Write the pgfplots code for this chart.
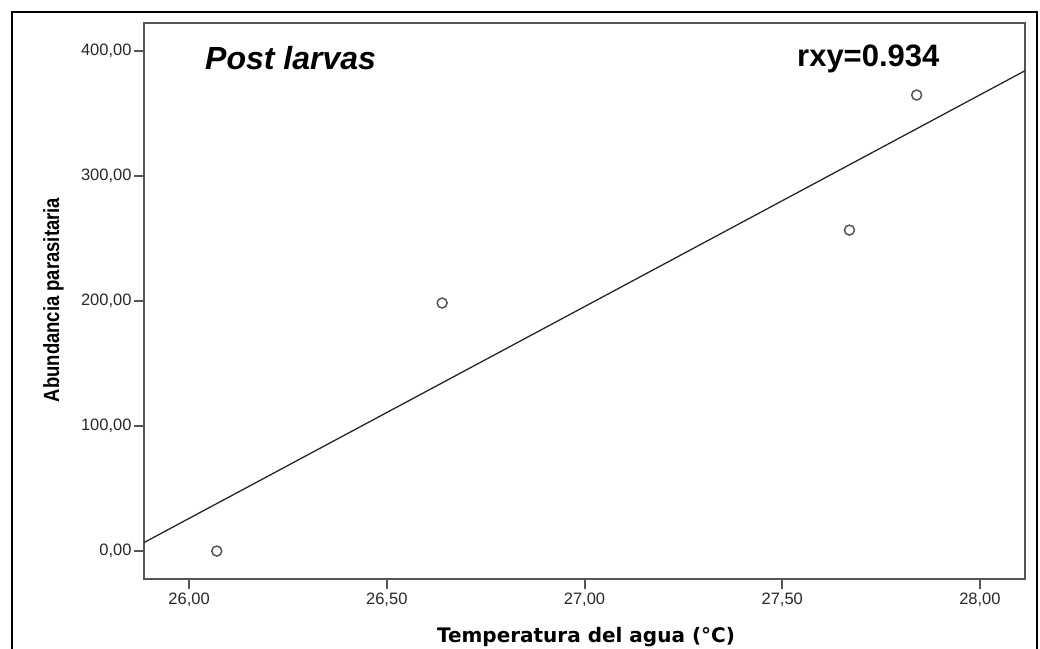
\documentclass[border=0pt]{standalone}
\usepackage{fontspec}
\setmainfont{Liberation Sans}
\newfontfamily\dejavu{DejaVu Sans}
\newfontfamily\narrow[FakeStretch=0.84]{Liberation Sans}
\usepackage{pgfplots}
\pgfplotsset{compat=1.18}
\definecolor{axgray}{RGB}{85,85,85}
\definecolor{txtgray}{RGB}{40,40,40}
\begin{document}
\begin{tikzpicture}[x=1pt,y=1pt]
\useasboundingbox (0,0) rectangle (1040,648);
\draw[line width=1.8pt,black] (12,-5) -- (12,636) -- (1037,636) -- (1037,-5);
\begin{axis}[
    at={(144pt,69.3pt)}, anchor=south west,
    scale only axis, width=881pt, height=556pt,
    xmin=25.886, xmax=28.114, ymin=-22.1, ymax=422.4,
    xtick={26,26.5,27,27.5,28}, ytick={0,100,200,300,400},
    xtick pos=bottom, ytick pos=left, tick align=outside,
    major tick length=10pt,
    axis line style={axgray, line width=2pt},
    tick style={axgray, line width=2pt},
    every tick label/.append style={font=\fontsize{16.5}{18}\selectfont, text=txtgray},
    xticklabel style={yshift=-1pt},
    yticklabel style={xshift=1pt},
    /pgf/number format/.cd, fixed, fixed zerofill, precision=2, use comma, 1000 sep={}, assume math mode=true,
]
\addplot[draw=black!85, line width=1.3pt] coordinates {(25.886,6.8) (28.114,384.0)};
\addplot[only marks, mark=o, mark size=5pt, mark options={draw=axgray, line width=1.5pt}]
  coordinates {(26.07,0) (26.64,198.3) (27.67,256.6) (27.84,364.6)};
\end{axis}
\node[anchor=base west, inner sep=0] at (205,578) {\fontsize{32}{36}\selectfont\bfseries\itshape Post larvas};
\node[anchor=base west, inner sep=0] at (797,581) {\fontsize{31}{34}\selectfont\bfseries rxy=0.934};
\node[anchor=base, inner sep=0] at (586,6) {\dejavu\fontsize{20}{22}\selectfont\bfseries Temperatura del agua (°C)};
\node[anchor=base, rotate=90, inner sep=0] at (59,348) {\narrow\fontsize{22}{24}\selectfont\bfseries Abundancia parasitaria};
\end{tikzpicture}
\end{document}
